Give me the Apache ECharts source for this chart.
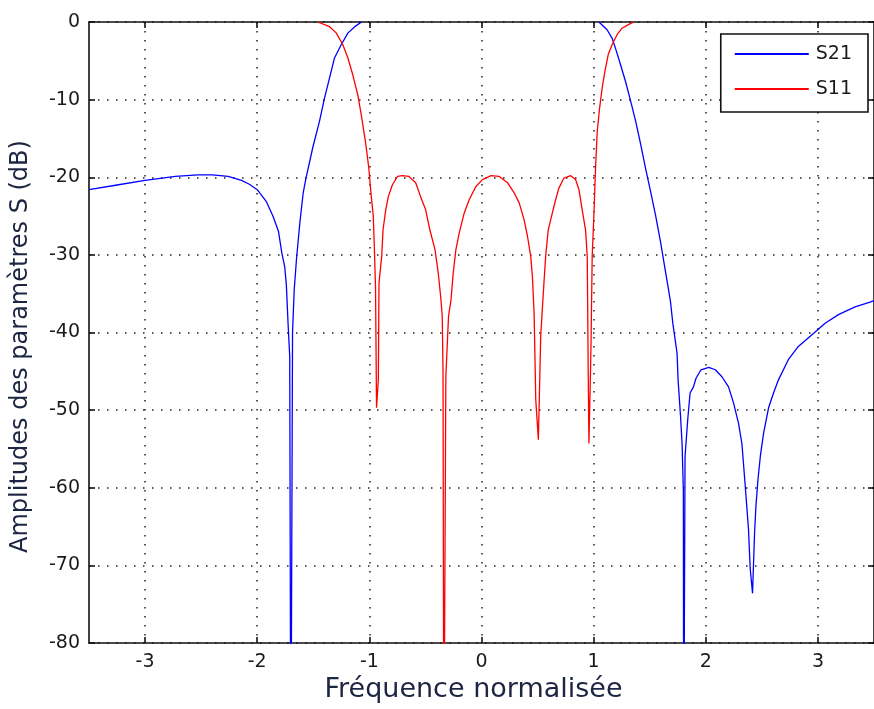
<!DOCTYPE html>
<html>
<head>
<meta charset="utf-8">
<script src="https://cdn.jsdelivr.net/npm/echarts@6/dist/echarts.min.js"></script>
<style>
  html, body { margin: 0; padding: 0; background: #fff; }
  #chart { width: 874px; height: 709px; }
</style>
</head>
<body>
<div id="chart"></div>
<script>
// Axis ticks
const xTicks = [-3, -2, -1, 0, 1, 2, 3];
const yTicks = [0, -10, -20, -30, -40, -50, -60, -70, -80];

// S21 (transmission), stopband below the passband
const s21LowFreq = [-3.5, -3.25, -3.0, -2.73, -2.53, -2.4, -2.26, -2.14, -2.07, -2.0, -1.92, -1.86, -1.81, -1.78,
  -1.755, -1.74, -1.725, -1.71, -1.70, -1.692, -1.685, -1.67, -1.65, -1.62, -1.59, -1.565, -1.505,
  -1.445, -1.40, -1.355, -1.31, -1.25, -1.19, -1.13, -1.07];
const s21LowDb = [-21.6, -21.0, -20.4, -19.9, -19.7, -19.7, -19.9, -20.4, -20.9, -21.6, -23.1, -25.0, -27.0, -29.8,
  -31.5, -33.9, -38.8, -43.1, -100, -100, -40.0, -34.5, -30.6, -25.9, -22.0, -20.1, -16.2,
  -12.8, -9.8, -7.2, -4.6, -2.9, -1.4, -0.6, 0];

// S21, stopband above the passband
const s21HighFreq = [1.047, 1.12, 1.165, 1.195, 1.24, 1.285, 1.33, 1.375, 1.42, 1.462, 1.507, 1.551,
  1.596, 1.64, 1.685, 1.706, 1.744, 1.753, 1.775, 1.789, 1.800, 1.803, 1.808, 1.815, 1.839, 1.86,
  1.89, 1.913, 1.957, 2.026, 2.085, 2.144, 2.203, 2.248, 2.292, 2.322, 2.352, 2.381, 2.396, 2.417,
  2.435, 2.447, 2.465, 2.486, 2.515, 2.56, 2.604, 2.648, 2.736, 2.825, 2.97, 3.064, 3.183, 3.331,
  3.465, 3.5];
const s21HighDb = [0, -1.0, -2.1, -3.4, -5.5, -7.7, -10.2, -12.8, -15.8, -18.8, -21.8, -24.8,
  -28.3, -32.1, -36.0, -38.8, -42.7, -46.1, -50.8, -54.5, -60.5, -100, -100, -56.0, -51.2, -47.8,
  -47.0, -45.9, -44.8, -44.5, -44.8, -45.7, -47.0, -49.1, -51.7, -54.3, -59.8, -65.4, -70.4, -73.6,
  -65.8, -62.4, -59.0, -56.0, -53.0, -49.7, -47.8, -46.1, -43.5, -41.8, -40.0, -38.8, -37.7, -36.7,
  -36.1, -35.9];

// S11 (reflection)
const s11Freq = [-1.46, -1.444, -1.355, -1.296, -1.237, -1.192, -1.148, -1.103, -1.073, -1.035, -1.005,
  -0.984, -0.965, -0.955, -0.945, -0.936, -0.920, -0.914, -0.890, -0.878, -0.854, -0.831, -0.795,
  -0.750, -0.706, -0.647, -0.587, -0.543, -0.498, -0.460, -0.415, -0.386, -0.364, -0.350, -0.343,
  -0.336, -0.330, -0.318, -0.294, -0.272, -0.252, -0.228, -0.199, -0.154, -0.110, -0.050, 0.009,
  0.084, 0.158, 0.232, 0.291, 0.336, 0.380, 0.410, 0.439, 0.454, 0.469, 0.484, 0.507, 0.528, 0.542,
  0.557, 0.572, 0.595, 0.625, 0.661, 0.690, 0.735, 0.795, 0.839, 0.869, 0.898, 0.928, 0.943, 0.952,
  0.958, 0.973, 0.978, 0.987, 1.002, 1.017, 1.032, 1.053, 1.076, 1.100, 1.130, 1.165, 1.210, 1.254,
  1.314, 1.358];
const s11Db = [0, 0, -0.6, -1.4, -2.9, -4.6, -6.8, -9.4, -11.9, -15.4, -18.8,
  -22.3, -25.0, -29.3, -34.1, -49.7, -46.1, -33.6, -30.2, -26.8, -24.2, -22.5, -21.0,
  -19.9, -19.8, -19.9, -20.7, -22.5, -24.2, -26.8, -29.3, -32.3, -35.4, -37.9, -45.2,
  -100, -100, -45.7, -37.9, -35.8, -32.3, -29.3, -27.2, -24.6, -22.9, -21.2, -20.3,
  -19.8, -19.9, -20.7, -22.0, -23.3, -25.5, -27.6, -30.2, -32.8, -37.5, -48.7, -53.8, -40.5, -37.1,
  -33.6, -30.2, -26.8, -25.0, -22.9, -21.4, -20.1, -19.8, -20.3, -21.6, -24.2, -26.8, -30.2, -45.7,
  -54.3, -44.4, -40.1, -30.2, -25.0, -18.8, -14.1, -11.1, -8.5, -6.4, -4.2, -2.9, -1.6, -0.8,
  -0.3, 0];

const zip = (xs, ys) => xs.map((x, i) => [x, ys[i]]);
// the passband of S21 sits on 0 dB, hidden under the frame: break the line there
const s21Data = zip(s21LowFreq, s21LowDb).concat([[0, null]], zip(s21HighFreq, s21HighDb));
const s11Data = zip(s11Freq, s11Db);

const chart = echarts.init(document.getElementById('chart'), null, { renderer: 'canvas' });

const tickFont = { fontFamily: 'DejaVu Sans', fontSize: 19, color: '#1a1a1a' };
const gridLine = { show: true, lineStyle: { color: '#222', width: 1.5, type: [1.5, 7.5] } };
const frameLine = { show: true, onZero: false, lineStyle: { color: '#111', width: 1.6 } };
const innerTick = { show: true, inside: true, length: 6, lineStyle: { color: '#111', width: 1.6 } };

chart.setOption({
  animation: false,
  backgroundColor: '#fff',
  grid: { left: 89, right: -1, top: 22, bottom: 66, containLabel: false },
  legend: {
    orient: 'vertical',
    right: 6, top: 34,
    padding: [10, 16, 13, 14],
    itemGap: 15,
    itemWidth: 74, itemHeight: 2,
    icon: 'rect',
    borderColor: '#111', borderWidth: 1.6,
    backgroundColor: '#fff',
    textStyle: { fontFamily: 'DejaVu Sans', fontSize: 19, lineHeight: 20, color: '#1a1a1a', padding: [0, 0, 0, 2] },
    data: ['S21', 'S11']
  },
  xAxis: [{
    type: 'value', min: -3.5, max: 3.5, position: 'bottom',
    name: 'Fréquence normalisée', nameLocation: 'middle', nameGap: 28,
    nameTextStyle: { fontFamily: 'DejaVu Sans', fontSize: 27, color: '#1c2541', padding: [0, 16, 0, 0] },
    axisLine: frameLine,
    axisTick: Object.assign({ customValues: xTicks }, innerTick),
    axisLabel: Object.assign({ customValues: xTicks, margin: 10 }, tickFont),
    splitLine: gridLine
  }, {
    type: 'value', min: -3.5, max: 3.5, position: 'top',
    axisLine: frameLine,
    axisTick: Object.assign({ customValues: xTicks }, innerTick),
    axisLabel: { show: false },
    splitLine: { show: false }
  }],
  yAxis: [{
    type: 'value', min: -80, max: 0, interval: 10, position: 'left',
    name: 'Amplitudes des paramètres S (dB)', nameLocation: 'middle', nameGap: 56,
    nameTextStyle: { fontFamily: 'DejaVu Sans', fontSize: 24, color: '#1c2541', padding: [0, 28, 0, 0] },
    axisLine: frameLine,
    axisTick: innerTick,
    axisLabel: Object.assign({ margin: 9, customValues: yTicks }, tickFont),
    splitLine: gridLine
  }, {
    type: 'value', min: -80, max: 0, interval: 10, position: 'right',
    axisLine: frameLine,
    axisTick: innerTick,
    axisLabel: { show: false },
    splitLine: { show: false }
  }],
  series: [{
    name: 'S21', type: 'line', data: s21Data, symbol: 'none',
    xAxisIndex: 0, yAxisIndex: 0, clip: true,
    lineStyle: { color: '#0000ff', width: 1.3 }, itemStyle: { color: '#0000ff' }
  }, {
    name: 'S11', type: 'line', data: s11Data, symbol: 'none',
    xAxisIndex: 0, yAxisIndex: 0, clip: true,
    lineStyle: { color: '#ff0000', width: 1.3 }, itemStyle: { color: '#ff0000' }
  }]
});
</script>
</body>
</html>
